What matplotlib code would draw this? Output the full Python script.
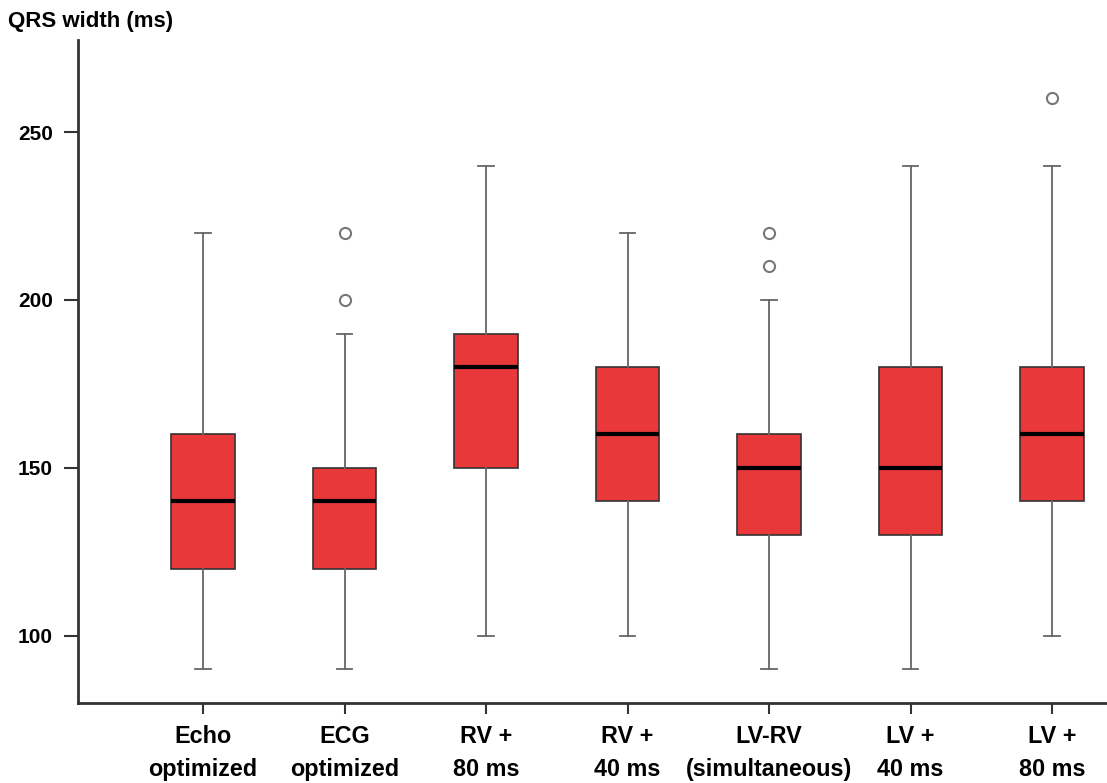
import matplotlib
matplotlib.use("Agg")
import matplotlib.pyplot as plt

plt.rcParams['font.family'] = ['Liberation Sans', 'DejaVu Sans']
plt.rcParams['font.weight'] = 'bold'

categories = ["Echo\noptimized", "ECG\noptimized", "RV +\n80 ms", "RV +\n40 ms",
              "LV-RV\n(simultaneous)", "LV +\n40 ms", "LV +\n80 ms"]
whisker_low = [90, 90, 100, 100, 90, 90, 100]
q1 = [120, 120, 150, 140, 130, 130, 140]
medians = [140, 140, 180, 160, 150, 150, 160]
q3 = [160, 150, 190, 180, 160, 180, 180]
whisker_high = [220, 190, 240, 220, 200, 240, 240]
outliers = [[], [200, 220], [], [], [210, 220], [], [260]]

stats = []
for i in range(len(categories)):
    stats.append(dict(whislo=whisker_low[i], q1=q1[i], med=medians[i], q3=q3[i],
                      whishi=whisker_high[i], fliers=outliers[i], label=categories[i]))

fig = plt.figure(figsize=(11.07, 7.83), dpi=100)
ax = fig.add_axes([78/1107, 1-703/783, 1-78/1107, (703-40)/783])

positions = list(range(1, len(categories) + 1))
ax.bxp(stats, positions=positions, widths=0.45, patch_artist=True,
       boxprops=dict(facecolor='#E8383A', edgecolor='#333333', linewidth=1.2),
       medianprops=dict(color='black', linewidth=3),
       whiskerprops=dict(color='#666666', linewidth=1.3),
       capprops=dict(color='#666666', linewidth=1.3),
       capwidths=0.11,
       flierprops=dict(marker='o', markerfacecolor='white', markeredgecolor='#777777',
                       markersize=8, markeredgewidth=1.5, linestyle='none'))

ax.set_xlim(1 - 125/141.5, 1 + 904/141.5)
ax.set_ylim(80, 277.4)
ax.set_yticks([100, 150, 200, 250])
ax.set_xticks(positions)
ax.set_xticklabels(categories, fontsize=16.8, fontweight='bold', linespacing=1.55)
ax.tick_params(axis='y', labelsize=15, length=10, width=1.5, color='#333333', pad=8)
ax.tick_params(axis='x', length=8, width=1.5, color='#333333', pad=8)
for lab in ax.get_yticklabels():
    lab.set_fontweight('bold')

for s in ['top', 'right']:
    ax.spines[s].set_visible(False)
for s in ['left', 'bottom']:
    ax.spines[s].set_linewidth(2)
    ax.spines[s].set_color('#333333')

fig.text(8/1107, 1-22/783, "QRS width (ms)", fontsize=16, fontweight='bold',
         ha='left', va='center')

fig.savefig("out.png", dpi=100)
